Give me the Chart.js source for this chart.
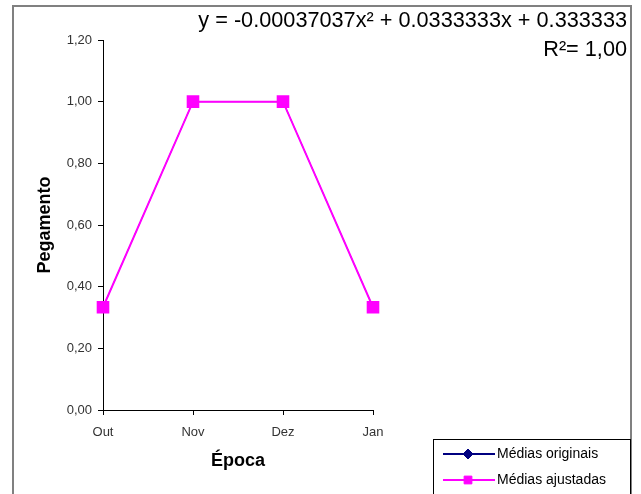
<!DOCTYPE html>
<html>
<head>
<meta charset="utf-8">
<script src="https://cdn.jsdelivr.net/npm/chart.js@4.4.1/dist/chart.umd.min.js"></script>
<style>
  html, body { margin: 0; padding: 0; background: #fff; }
  canvas { display: block; }
</style>
</head>
<body>
<canvas id="grafico" width="641" height="494"></canvas>
<script>
var epocas = ['Out', 'Nov', 'Dez', 'Jan'];
var mediasOriginais = [0.3333, 1.0, 1.0, 0.3333];
var mediasAjustadas = [0.3333, 1.0, 1.0, 0.3333];
var equacao = ['y = -0.00037037x\u00b2 + 0.0333333x + 0.333333', 'R\u00b2= 1,00'];

var fonte = 'Arial, "Liberation Sans", sans-serif';

// moldura, equação e legenda desenhadas por cima
var extras = {
  id: 'extras',
  afterDraw: function (chart) {
    var ctx = chart.ctx;
    ctx.save();
    ctx.strokeStyle = '#808080';
    ctx.lineWidth = 2;
    ctx.strokeRect(13, 6, 618, 500);

    ctx.fillStyle = '#000';
    ctx.font = '21.7px ' + fonte;
    ctx.textAlign = 'right';
    ctx.textBaseline = 'alphabetic';
    ctx.fillText(equacao[0], 627, 27);
    ctx.fillText(equacao[1], 627, 56);

    ctx.strokeStyle = '#000';
    ctx.lineWidth = 1;
    ctx.strokeRect(433.5, 439.5, 197, 60);
    ctx.font = '14px ' + fonte;
    ctx.textAlign = 'left';
    ctx.textBaseline = 'middle';
    var ys = [454, 480];
    chart.data.datasets.forEach(function (ds, i) {
      var y = ys[i];
      ctx.strokeStyle = ds.borderColor;
      ctx.lineWidth = 2;
      ctx.beginPath();
      ctx.moveTo(443, y);
      ctx.lineTo(495, y);
      ctx.stroke();
      ctx.fillStyle = ds.backgroundColor;
      ctx.lineWidth = 1;
      Chart.helpers.drawPoint(ctx, {pointStyle: ds.pointStyle, radius: ds.legendRadius, borderWidth: 1}, 468, y);
      ctx.fillStyle = '#000';
      ctx.fillText(ds.label, 497, y);
    });
    ctx.restore();
  }
};

new Chart(document.getElementById('grafico').getContext('2d'), {
  type: 'line',
  data: {
    labels: epocas,
    datasets: [{
      label: 'Médias originais',
      data: mediasOriginais,
      borderColor: '#000080',
      backgroundColor: '#000080',
      borderWidth: 1,
      pointStyle: 'rectRot',
      pointRadius: 4,
      legendRadius: 5,
      order: 2
    }, {
      label: 'Médias ajustadas',
      data: mediasAjustadas,
      borderColor: '#FF00FF',
      backgroundColor: '#FF00FF',
      borderWidth: 2,
      pointStyle: 'rect',
      pointRadius: 7.5,
      legendRadius: 5.5,
      order: 1
    }]
  },
  options: {
    responsive: false,
    animation: false,
    layout: { padding: { left: 31, top: 40, right: 268, bottom: 18 } },
    plugins: {
      legend: { display: false },
      tooltip: { enabled: false }
    },
    scales: {
      x: {
        offset: false,
        afterFit: function (s) { s.height = 66; },
        grid: { drawOnChartArea: false, drawTicks: true, tickLength: 5, color: '#000' },
        border: { color: '#000', width: 1 },
        ticks: { color: '#333', font: { family: fonte, size: 13 }, padding: 10, maxRotation: 0 },
        title: { display: true, text: 'Época', color: '#000', font: { family: fonte, size: 18, weight: 'bold' } }
      },
      y: {
        min: 0,
        max: 1.2,
        afterFit: function (s) { s.width = 72; },
        grid: { drawOnChartArea: false, drawTicks: true, tickLength: 5, color: '#000' },
        border: { color: '#000', width: 1 },
        ticks: {
          stepSize: 0.2,
          color: '#333',
          font: { family: fonte, size: 13 },
          padding: 6,
          callback: function (v) { return v.toFixed(2).replace('.', ','); }
        },
        title: { display: true, text: 'Pegamento', color: '#000', padding: { top: 3, bottom: 4 }, font: { family: fonte, size: 18, weight: 'bold' } }
      }
    }
  },
  plugins: [extras]
});
</script>
</body>
</html>
